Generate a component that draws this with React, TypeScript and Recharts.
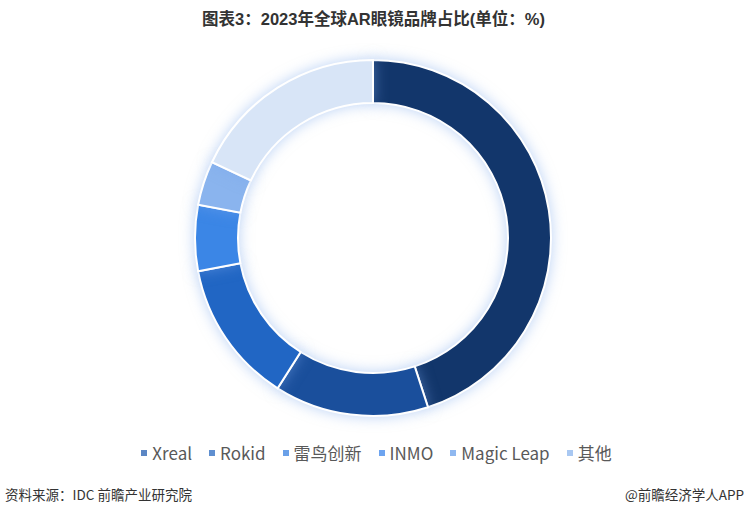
import React from 'react';
import { PieChart, Pie, Cell } from 'recharts';

const brands = ['Xreal', 'Rokid', '雷鸟创新', 'INMO', 'Magic Leap', '其他'];
const shares = [45, 14, 13, 6, 4, 18];
const sliceColors = ['#12366b', '#1a4f9c', '#2166c4', '#3b86e6', '#8ab4ee', '#d8e5f7'];
const legendColors = ['#5b86c4', '#5f8fd0', '#6aa0e8', '#6da4f0', '#8fb8f0', '#a9c8f2'];

const chartData = brands.map((name, i) => ({ name, value: shares[i] }));

const LegendRow = () => (
  <div
    style={{
      position: 'absolute',
      top: 440,
      left: 0,
      width: 747,
      display: 'flex',
      justifyContent: 'center',
      alignItems: 'center',
      paddingLeft: 6,
      boxSizing: 'border-box',
    }}
  >
    {brands.map((name, i) => (
      <span
        key={name}
        style={{ display: 'inline-flex', alignItems: 'center', marginRight: i < brands.length - 1 ? 17 : 0 }}
      >
        <span
          style={{
            display: 'inline-block',
            width: 6,
            height: 6,
            background: legendColors[i],
            marginRight: 5,
          }}
        />
        <span style={{ fontSize: 17, color: '#595959', fontFamily: '"Noto Sans CJK SC", "Noto Sans", sans-serif' }}>
          {name}
        </span>
      </span>
    ))}
  </div>
);

export default function App() {
  return (
    <div
      style={{
        position: 'absolute',
        left: 0,
        top: 0,
        width: 747,
        height: 514,
        background: '#fff',
        fontFamily: '"Noto Sans CJK SC", sans-serif',
      }}
    >
      <div
        style={{
          position: 'absolute',
          top: 6,
          width: 747,
          textAlign: 'center',
          fontSize: 16.5,
          fontWeight: 'bold',
          color: '#333',
          fontFamily: '"Liberation Sans", "Noto Sans CJK SC", sans-serif',
        }}
      >
        图表3：2023年全球AR眼镜品牌占比(单位：%)
      </div>
      <PieChart width={747} height={514} margin={{ top: 0, right: 0, bottom: 0, left: 0 }}>
        <Pie
          data={chartData}
          dataKey="value"
          nameKey="name"
          cx={373}
          cy={238}
          innerRadius={135}
          outerRadius={178}
          startAngle={90}
          endAngle={-270}
          stroke="#fff"
          strokeWidth={2}
          isAnimationActive={false}
        >
          {chartData.map((d, i) => (
            <Cell
              key={d.name}
              fill={sliceColors[i]}
              style={{ filter: 'drop-shadow(0 0 7px rgba(120,165,235,0.5))' }}
            />
          ))}
        </Pie>
      </PieChart>
      <LegendRow />
      <div
        style={{
          position: 'absolute',
          left: 5,
          top: 484,
          fontSize: 13.5,
          color: '#333',
        }}
      >
        资料来源：IDC 前瞻产业研究院
      </div>
      <div
        style={{
          position: 'absolute',
          right: 3,
          top: 484,
          fontSize: 13.5,
          color: '#333',
        }}
      >
        @前瞻经济学人APP
      </div>
    </div>
  );
}
